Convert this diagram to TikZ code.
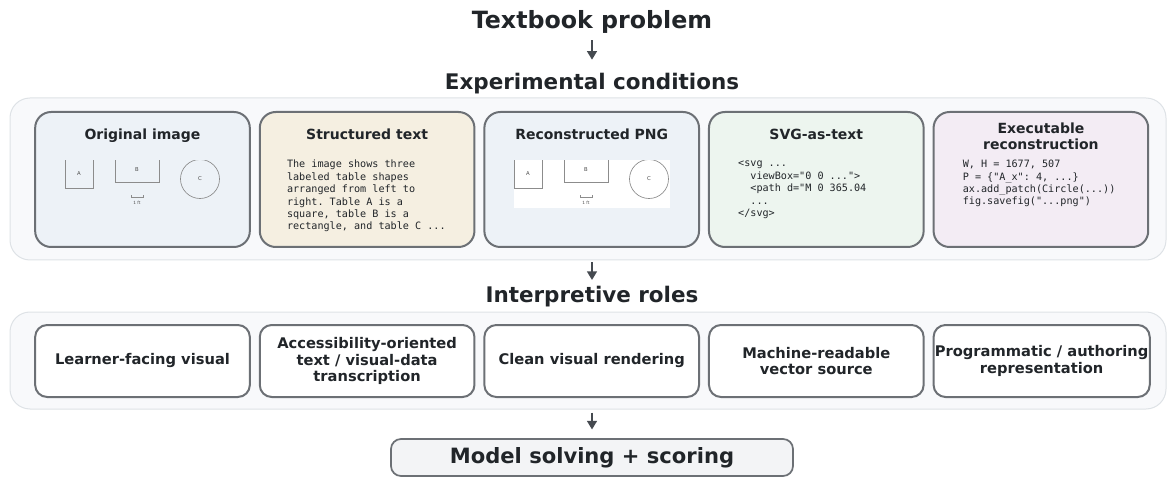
\documentclass[tikz,border=0pt]{standalone}
\usepackage{fontspec}
\setmainfont{DejaVu Sans}
\setmonofont{DejaVu Sans Mono}
\usetikzlibrary{arrows.meta,positioning,calc}

\definecolor{ink}{HTML}{212529}
\definecolor{edgegray}{HTML}{6C7075}
\definecolor{panelfill}{HTML}{F8F9FB}
\definecolor{paneledge}{HTML}{DEE2E6}
\definecolor{bluefill}{HTML}{EDF2F7}
\definecolor{sandfill}{HTML}{F5EFE1}
\definecolor{mintfill}{HTML}{EDF5EF}
\definecolor{plumfill}{HTML}{F3ECF4}
\definecolor{finalfill}{HTML}{F3F4F6}
\definecolor{arrowgray}{HTML}{454A50}
\definecolor{sketchgray}{HTML}{8C8C8C}

% little table drawing used in two cards
\newcommand{\tablesketch}[1]{%
  \begin{scope}
    \clip (-2,0.4) rectangle (160,50);
    \draw[sketchgray,line width=0.5pt] (0,0) -- (0,28) -- (28,28) -- (28,0);
    \draw[sketchgray,line width=0.5pt] (50,0) -- (50,22) -- (94,22) -- (94,0);
    \draw[sketchgray,line width=0.5pt] (135,19) circle[radius=19.5];
  \end{scope}
  \node[tiny] (#1-a) at (14,14) {A};
  \node[tiny] (#1-b) at (72,10) {B};
  \node[tiny] (#1-c) at (135,19) {C};
  \draw[sketchgray,line width=0.4pt] (66,37) -- (78,37) (66,35.5) -- (66,38.5) (78,35.5) -- (78,38.5);
  \node[tiny,font=\fontsize{3.2}{4}\selectfont] (#1-ft) at (72,42.5) {1 ft};
}

\begin{document}
\begin{tikzpicture}[x=0.75pt,y=-0.75pt,node distance=5.95pt,
    heading/.style={font=\fontsize{16.1}{19}\selectfont\bfseries,text=ink,inner sep=0pt,outer sep=0pt,anchor=base},
    panel/.style={draw=paneledge,fill=panelfill,line width=0.75pt,rounded corners=15pt,minimum width=867pt},
    card/.style={draw=edgegray,line width=1.5pt,rounded corners=12pt,minimum width=161pt,minimum height=101.25pt},
    role/.style={draw=edgegray,fill=white,line width=1.5pt,rounded corners=9pt,minimum width=161pt,minimum height=54pt,
      align=center,font=\fontsize{11}{12.6}\selectfont\bfseries,text=ink,inner sep=1pt},
    cardtitle/.style={font=\fontsize{10.5}{12}\selectfont\bfseries,text=ink,align=center,inner sep=0pt},
    code/.style={font=\ttfamily\fontsize{7.6}{9.3}\selectfont,text=ink,align=left,inner sep=0pt,anchor=north west},
    tiny/.style={font=\fontsize{4}{5}\selectfont,text=black!70,inner sep=0pt},
    flow/.style={draw=arrowgray,line width=1.2pt,-{Triangle[length=6.5pt,width=7.5pt]}}]

  \useasboundingbox (0,0) rectangle (1167,477);

  \node[heading,font=\fontsize{17.8}{21}\selectfont\bfseries] (problem) at (592,29) {Textbook problem};
  \node[heading] (conditions) at (592,90) {Experimental conditions};
  \draw[flow,shorten <=4.7pt,shorten >=10.5pt] (problem.south) -- (conditions.north);

  % conditions row
  \node[panel,minimum height=121.5pt] (cond-panel) at (588,179) {};
  \node[card,fill=bluefill] (orig) at (142.5,179.5) {};
  \node[card,fill=sandfill] (struct) [right=of orig] {};
  \node[card,fill=bluefill] (recon) [right=of struct] {};
  \node[card,fill=mintfill] (svg) [right=of recon] {};
  \node[card,fill=plumfill] (exec) [right=of svg] {};

  \node[cardtitle,anchor=base] (orig-title) at ($(orig.north)+(0,29)$) {Original image};
  \node[cardtitle,anchor=base] (struct-title) at ($(struct.north)+(0,29)$) {Structured text};
  \node[cardtitle,anchor=base] (recon-title) at ($(recon.north)+(0,29)$) {Reconstructed PNG};
  \node[cardtitle,anchor=base] (svg-title) at ($(svg.north)+(0,29)$) {SVG-as-text};
  \node[cardtitle] (exec-title) at ($(exec.north)+(0,25)$) {Executable\\reconstruction};

  \begin{scope}[shift={(65,160)}]
    \tablesketch{orig}
  \end{scope}
  \fill[white] (514,160) rectangle (670,208);
  \begin{scope}[shift={(514,160)}]
    \tablesketch{recon}
  \end{scope}

  \node[code] (struct-code) at ($(struct.north west)+(28,49)$) {The image shows three\\labeled table shapes\\arranged from left to\\right. Table A is a\\square, table B is a\\rectangle, and table C ...};
  \node[code] (svg-code) at ($(svg.north west)+(30,50)$) {<svg ...\\\ \ viewBox="0 0 ...">\\\ \ <path d="M 0 365.04\\\ \ ...\\</svg>};
  \node[code] (exec-code) at ($(exec.north west)+(30,49)$) {W, H = 1677, 507\\P = \{"A\_x": 4, ...\}\\ax.add\_patch(Circle(...))\\fig.savefig("...png")};

  \node[heading] (roles) at (592,302) {Interpretive roles};
  \draw[flow,shorten <=1.5pt,shorten >=4.3pt] (cond-panel.south -| roles.north) -- (roles.north);

  % roles row
  \node[panel,minimum height=72.75pt] (role-panel) at (588,360.5) {};
  \node[role] (learner) at (142.5,361) {Learner-facing visual};
  \node[role] (access) [right=of learner] {Accessibility-oriented\\text / visual-data\\transcription};
  \node[role] (clean) [right=of access] {Clean visual rendering};
  \node[role] (machine) [right=of clean] {Machine-readable\\vector source};
  \node[role] (program) [right=of machine] {Programmatic / authoring\\representation};

  \node[draw=edgegray,fill=finalfill,line width=1.3pt,rounded corners=7.5pt,minimum width=301.5pt,minimum height=27.75pt,
    font=\fontsize{15.8}{18}\selectfont\bfseries,text=ink] (solve) at (592,457.5) {Model solving + scoring};
  \draw[flow,shorten <=2.25pt,shorten >=6.5pt] (role-panel.south -| solve.north) -- (solve.north);
\end{tikzpicture}
\end{document}
